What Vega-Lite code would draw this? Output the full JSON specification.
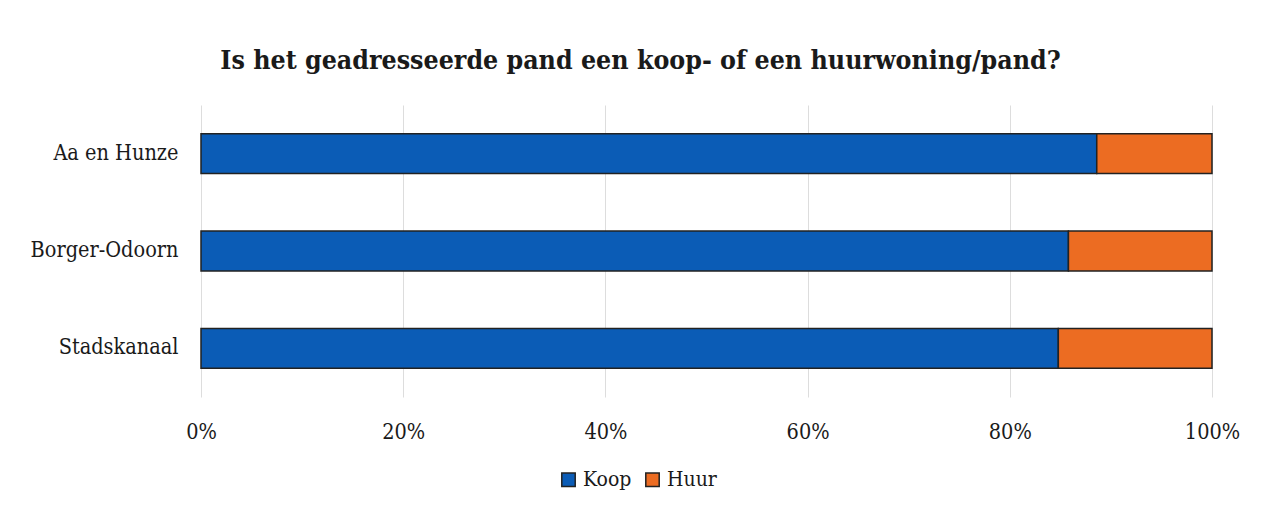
{
  "$schema": "https://vega.github.io/schema/vega-lite/v6.json",
  "width": 1011,
  "height": 292,
  "autosize": {"type": "none"},
  "padding": {"left": 201, "top": 105, "right": 51, "bottom": 110},
  "background": "white",
  "config": {"view": {"stroke": null}, "font": "Liberation Serif"},
  "title": {
    "text": "Is het geadresseerde pand een koop- of een huurwoning/pand?",
    "font": "DejaVu Serif Condensed",
    "fontSize": 26.5,
    "fontWeight": "bold",
    "color": "#1a1a1a",
    "anchor": "middle",
    "dx": -66,
    "offset": 31
  },
  "data": {
    "values": [
      {"gemeente": "Aa en Hunze", "type": "Koop", "volgorde": 1, "aandeel": 0.886},
      {"gemeente": "Aa en Hunze", "type": "Huur", "volgorde": 2, "aandeel": 0.114},
      {"gemeente": "Borger-Odoorn", "type": "Koop", "volgorde": 1, "aandeel": 0.858},
      {"gemeente": "Borger-Odoorn", "type": "Huur", "volgorde": 2, "aandeel": 0.142},
      {"gemeente": "Stadskanaal", "type": "Koop", "volgorde": 1, "aandeel": 0.848},
      {"gemeente": "Stadskanaal", "type": "Huur", "volgorde": 2, "aandeel": 0.152}
    ]
  },
  "mark": {"type": "bar", "stroke": "#222222", "strokeWidth": 1.5},
  "encoding": {
    "y": {
      "field": "gemeente",
      "type": "nominal",
      "scale": {"paddingInner": 0.59, "paddingOuter": 0.295},
      "axis": {
        "title": null,
        "domain": false,
        "ticks": false,
        "labelFont": "DejaVu Serif Condensed",
        "labelFontSize": 21.5,
        "labelColor": "#1a1a1a",
        "labelPadding": 23
      }
    },
    "x": {
      "field": "aandeel",
      "type": "quantitative",
      "stack": "zero",
      "scale": {"domain": [0, 1], "nice": false},
      "axis": {
        "title": null,
        "format": ".0%",
        "values": [0, 0.2, 0.4, 0.6, 0.8, 1],
        "domain": false,
        "ticks": false,
        "grid": true,
        "gridColor": "#dddddd",
        "gridWidth": 1,
        "labelFlush": false,
        "labelFont": "DejaVu Serif Condensed",
        "labelFontSize": 21.5,
        "labelColor": "#1a1a1a",
        "labelPadding": 24
      }
    },
    "order": {"field": "volgorde", "type": "quantitative", "sort": "ascending"},
    "color": {
      "field": "type",
      "type": "nominal",
      "scale": {"domain": ["Koop", "Huur"], "range": ["#0b5cb6", "#ec6c22"]},
      "legend": {
        "title": null,
        "orient": "none",
        "legendX": 357,
        "legendY": 364,
        "direction": "horizontal",
        "symbolType": "square",
        "symbolSize": 180,
        "symbolStrokeColor": "#222222",
        "symbolStrokeWidth": 1.5,
        "labelFont": "DejaVu Serif Condensed",
        "labelFontSize": 21,
        "labelColor": "#1a1a1a",
        "labelOffset": 4,
        "columnPadding": 10
      }
    }
  }
}
